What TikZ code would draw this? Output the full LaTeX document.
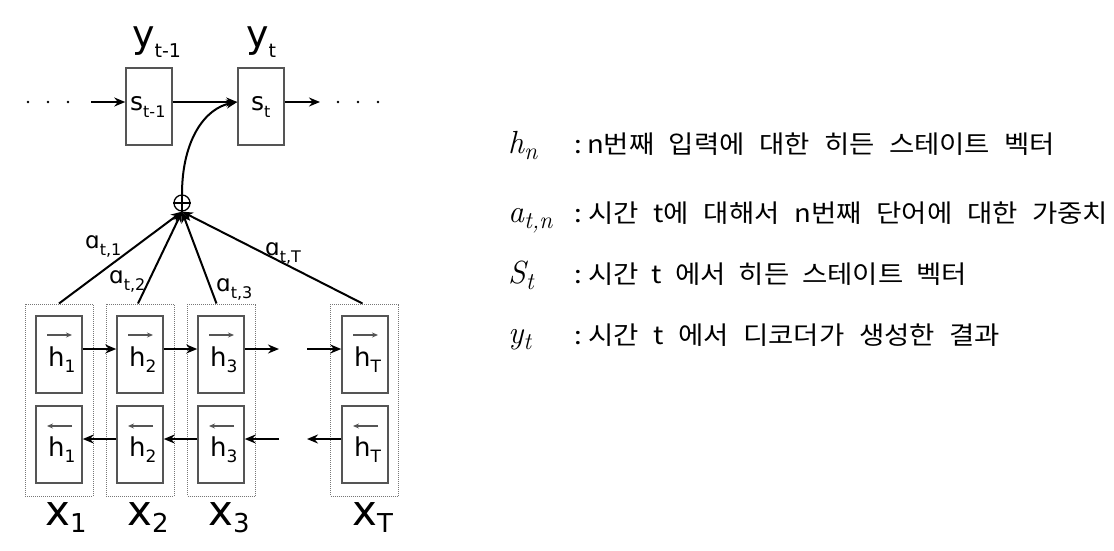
\documentclass[tikz,border=0pt]{standalone}
\usepackage{fontspec}
\setmainfont{DejaVu Sans}
\newfontfamily\kr[FakeStretch=1.1]{Noto Sans CJK KR}
\newfontfamily\mi{Latin Modern Roman}
\usetikzlibrary{arrows.meta,calc}
\definecolor{boxgray}{HTML}{555555}
\definecolor{dotgray}{HTML}{777777}
\newcommand{\fs}[1]{\fontsize{#1}{#1}\selectfont}
% main size, main text, sub size, sub text, drop
\newcommand{\lbl}[5]{{\fs{#1}#2\raisebox{-#5pt}{\fs{#3}#4}}}
\begin{document}
\begin{tikzpicture}[x=1pt,y=-1pt,
  box/.style={draw=boxgray, line width=1.5pt, minimum width=46pt, minimum height=77pt, inner sep=0pt},
  outer/.style={draw=dotgray, densely dotted, line width=1pt, minimum width=68pt, minimum height=192pt, inner sep=0pt},
  arr/.style={line width=2pt, -{Stealth[length=11pt,width=9pt]}},
  txt/.style={inner sep=0pt, anchor=base west},
  vecarr/.style={line width=1.2pt, draw=boxgray, -{Stealth[length=6pt,width=5pt]}}
]
\useasboundingbox (0,0) rectangle (1114,550);

% decoder
\node[box] (s1) at (149,106.5) {};
\node[box] (s2) at (261,106.5) {};
\node[txt] (ly1) at (132,47) {\lbl{38}{y}{19}{t-1}{10}};
\node[txt] (ly2) at (246,47) {\lbl{38}{y}{19}{t}{10}};
\node[txt] (ls1) at (130,110) {\lbl{25}{s}{16}{t-1}{7}};
\node[txt] (ls2) at (251,110) {\lbl{25}{s}{16}{t}{7}};
\coordinate (la) at (91,102);
\coordinate (ra) at (320,102);
\foreach \x in {28,48,68,338,358,378} \fill (\x,102) circle (1.4);
\draw[arr] (la) -- (la -| s1.west);
\draw[arr] ([yshift=4.5pt]s1.east) -- ([yshift=4.5pt]s2.west);
\draw[arr] ([yshift=4.5pt]s2.east) -- (ra);

% oplus
\node[circle, draw, line width=1.3pt, minimum size=16pt, inner sep=0pt] (op) at (182,203) {};
\draw[line width=1.3pt] (op.north) -- (op.south) (op.west) -- (op.east);
\draw[arr] (op.north) .. controls (182,140) and (205,108) .. ([yshift=4.5pt]s2.west);

% encoder
\foreach \n/\x/\ox in {1/59/59,2/140/140,3/221/221.5,T/365/364.5}{
  \node[outer] (o\n) at (\ox,400) {};
  \node[box] (f\n) at (\x,354.5) {};
  \node[box] (b\n) at (\x,444.5) {};
  \node[txt] (hf\n) at ([xshift=-11pt,yshift=-11.5pt]f\n.center) {\lbl{26}{h}{17}{\n}{6}};
  \node[txt] (hb\n) at ([xshift=-11pt,yshift=-11.5pt]b\n.center) {\lbl{26}{h}{17}{\n}{6}};
  \draw[vecarr] ([xshift=-12pt,yshift=19.5pt]f\n.center) -- ([xshift=13pt,yshift=19.5pt]f\n.center);
  \draw[vecarr] ([xshift=13pt,yshift=18.5pt]b\n.center) -- ([xshift=-12pt,yshift=18.5pt]b\n.center);
}
\coordinate (fm1) at (279,349);
\coordinate (fm2) at (307,349);
\coordinate (bm1) at (279,439);
\coordinate (bm2) at (307,439);
\draw[arr] ([yshift=5.5pt]f1.east) -- ([yshift=5.5pt]f2.west);
\draw[arr] ([yshift=5.5pt]f2.east) -- ([yshift=5.5pt]f3.west);
\draw[arr] ([yshift=5.5pt]f3.east) -- (fm1);
\draw[arr] (fm2) -- ([yshift=5.5pt]fT.west);
\draw[arr] ([yshift=5.5pt]b2.west) -- ([yshift=5.5pt]b1.east);
\draw[arr] ([yshift=5.5pt]b3.west) -- ([yshift=5.5pt]b2.east);
\draw[arr] (bm1) -- ([yshift=5.5pt]b3.east);
\draw[arr] ([yshift=5.5pt]bT.west) -- (bm2);

% attention lines
\draw[arr] (o1.north) -- (op.south);
\draw[arr] ([xshift=-2pt]o2.north) -- (op.south);
\draw[arr] ([xshift=-5pt]o3.north) -- (op.south);
\draw[arr] ([xshift=-2pt]oT.north) -- (op.south);

\node[txt] (a1) at (85,248) {\lbl{23}{ɑ}{16}{t,1}{7}};
\node[txt] (a2) at (109,283) {\lbl{23}{ɑ}{16}{t,2}{7}};
\node[txt] (a3) at (216,291) {\lbl{23}{ɑ}{16}{t,3}{7}};
\node[txt] (aT) at (265,255) {\lbl{23}{ɑ}{16}{t,T}{7}};

\node[txt] (x1) at (45,525) {\lbl{42}{x}{26}{1}{7}};
\node[txt] (x2) at (127,525) {\lbl{42}{x}{26}{2}{7}};
\node[txt] (x3) at (208,525) {\lbl{42}{x}{26}{3}{7}};
\node[txt] (xT) at (352,525) {\lbl{42}{x}{26}{T}{7}};

% legend
\node[txt] (m1) at (508,153) {\mi\itshape\lbl{32}{h}{24}{n}{6}};
\node[txt] (m2) at (508,222) {\mi\itshape\lbl{32}{a}{24}{t,n}{6}};
\node[txt] (m3) at (508,283) {\mi\itshape\lbl{32}{S}{24}{t}{6}};
\node[txt] (m4) at (508,343) {\mi\itshape\lbl{32}{y}{24}{t}{6}};

\node[txt] (c1) at (574,153) {\kr\fs{25}:};
\node[txt] (c2) at (574,222) {\kr\fs{25}:};
\node[txt] (c3) at (574,283) {\kr\fs{25}:};
\node[txt] (c4) at (574,344) {\kr\fs{25}:};
\node[txt] (d1) at (587,153) {\kr\fs{25}\makebox[468pt][s]{n번째 입력에 대한 히든 스테이트 벡터}};
\node[txt] (d2) at (588,222) {\kr\fs{25}\makebox[520pt][s]{시간 t에 대해서 n번째 단어에 대한 가중치}};
\node[txt] (d3) at (588,283) {\kr\fs{25}\makebox[379pt][s]{시간 t 에서 히든 스테이트 벡터}};
\node[txt] (d4) at (588,344) {\kr\fs{25}\makebox[412pt][s]{시간 t 에서 디코더가 생성한 결과}};
\end{tikzpicture}
\end{document}
